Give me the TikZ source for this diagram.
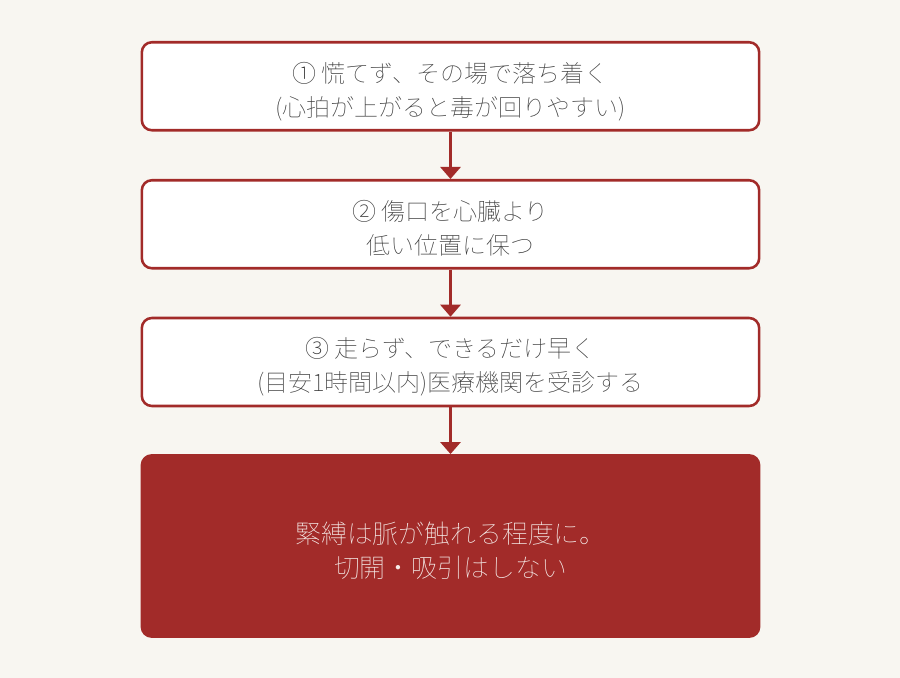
\documentclass[tikz,border=0pt]{standalone}
\usepackage{fontspec}
\newfontfamily\cjk{Noto Sans CJK JP Thin}
\usetikzlibrary{arrows.meta}
\definecolor{bgcream}{HTML}{F8F6F1}
\definecolor{stepred}{HTML}{A22B29}
\definecolor{steptext}{HTML}{3A3A3A}
\definecolor{alerttext}{HTML}{F6ECE9}
\tikzset{
  stepbox/.style={draw=stepred,fill=white,line width=1.9pt,rounded corners=7.5pt,
    minimum width=463pt,minimum height=66pt,align=center,text=steptext,
    text height=44.8pt,text depth=0pt,
    font=\cjk\fontsize{18}{25.5}\selectfont},
  alertbox/.style={draw=stepred,fill=stepred,line width=1.9pt,rounded corners=7.5pt,
    minimum width=463pt,minimum height=136pt,align=center,text=alerttext,
    text height=46.8pt,text depth=0pt,
    font=\cjk\fontsize{19.4}{25.5}\selectfont},
  flowarrow/.style={draw=stepred,line width=2.2pt,-{Triangle[width=15pt,length=9pt]}}
}
\begin{document}
\begin{tikzpicture}[x=0.75pt,y=-0.75pt]
            \fill[bgcream] (0,0) rectangle (900,678);
            \useasboundingbox (0,0) rectangle (900,678);

            \node[stepbox] (calm) at (450.5,86.25) {① 慌てず、その場で落ち着く\\(心拍が上がると毒が回りやすい)};
            \node[stepbox] (lower) at (450.5,224.25) {② 傷口を心臓より\\低い位置に保つ};
            \node[stepbox] (clinic) at (450.5,362) {③ 走らず、できるだけ早く\\(目安1時間以内)医療機関を受診する};
            \node[alertbox] (warn) at (450.5,546) {緊縛は脈が触れる程度に。\\切開・吸引はしない};

            \draw[flowarrow] (calm) -- (lower);
            \draw[flowarrow] (lower) -- (clinic);
            \draw[flowarrow] (clinic) -- (warn);
        \end{tikzpicture}
\end{document}
